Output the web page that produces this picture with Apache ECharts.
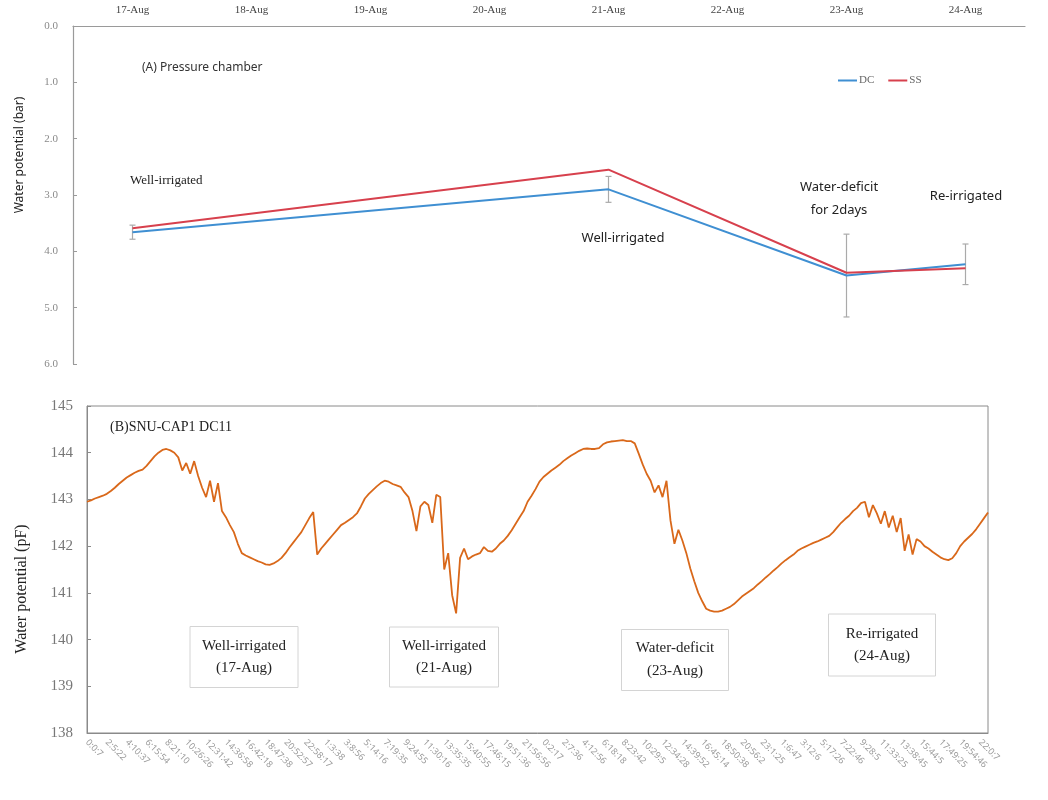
<!DOCTYPE html>
<html><head><meta charset="utf-8">
<script src="https://cdn.jsdelivr.net/npm/echarts@6/dist/echarts.min.js"></script>
<style>html,body{margin:0;padding:0;background:#fff}#c{width:1048px;height:800px}</style>
</head><body><div id="c"></div>
<script>
// ---- (A) Pressure chamber ----
const dates = ['17-Aug','18-Aug','19-Aug','20-Aug','21-Aug','22-Aug','23-Aug','24-Aug'];
const dcValues = [3.66, null, null, null, 2.90, null, 4.43, 4.23];
const ssValues = [3.59, null, null, null, 2.55, null, 4.38, 4.30];
const dcErrors = [0.125, null, null, null, 0.23, null, 0.735, 0.36];
const topTicks = [0, 1, 2, 3, 4, 5, 6];

// ---- (B) SNU-CAP1 DC11 ----
const timeLabels = ['0:0:7','2:5:22','4:10:37','6:15:54','8:21:10','10:26:26','12:31:42','14:36:58','16:42:18','18:47:38','20:52:57','22:58:17',
 '1:3:38','3:8:56','5:14:16','7:19:35','9:24:55','11:30:16','13:35:35','15:40:55','17:46:15','19:51:36','21:56:56',
 '0:2:17','2:7:36','4:12:56','6:18:18','8:23:42','10:29:5','12:34:28','14:39:52','16:45:14','18:50:38','20:56:2','23:1:25',
 '1:6:47','3:12:6','5:17:26','7:22:46','9:28:5','11:33:25','13:38:45','15:44:5','17:49:25','19:54:46','22:0:7'];
const capValues = [
 142.95,142.98,143.02,143.05,143.08,
 143.12,143.18,143.25,143.33,143.40,
 143.47,143.52,143.57,143.61,143.64,
 143.72,143.82,143.92,144.00,144.06,
 144.08,144.05,144.00,143.90,143.62,
 143.78,143.55,143.82,143.50,143.25,
 143.05,143.40,142.95,143.35,142.75,
 142.62,142.45,142.30,142.05,141.85,
 141.80,141.76,141.72,141.68,141.65,
 141.61,141.60,141.63,141.68,141.75,
 141.85,141.97,142.08,142.19,142.30,
 142.45,142.60,142.73,141.82,141.95,
 142.05,142.15,142.25,142.35,142.45,
 142.50,142.56,142.62,142.70,142.85,
 143.02,143.12,143.20,143.28,143.35,
 143.40,143.38,143.33,143.30,143.27,
 143.15,143.05,142.75,142.32,142.85,
 142.95,142.88,142.50,143.10,143.05,
 141.50,141.85,140.95,140.56,141.75,
 141.95,141.72,141.78,141.82,141.85,
 141.98,141.90,141.88,141.95,142.05,
 142.12,142.22,142.34,142.48,142.62,
 142.75,142.95,143.08,143.22,143.38,
 143.48,143.55,143.62,143.68,143.74,
 143.82,143.88,143.94,143.99,144.04,
 144.08,144.09,144.08,144.08,144.10,
 144.18,144.22,144.24,144.25,144.26,
 144.27,144.25,144.25,144.20,143.98,
 143.75,143.55,143.40,143.15,143.30,
 143.05,143.40,142.55,142.05,142.35,
 142.12,141.85,141.52,141.25,141.00,
 140.82,140.66,140.62,140.60,140.60,
 140.62,140.66,140.70,140.76,140.84,
 140.92,140.98,141.04,141.10,141.18,
 141.25,141.33,141.40,141.48,141.55,
 141.63,141.70,141.76,141.82,141.90,
 141.95,141.99,142.03,142.07,142.10,
 142.14,142.18,142.22,142.30,142.40,
 142.50,142.58,142.65,142.75,142.82,
 142.92,142.95,142.62,142.88,142.70,
 142.48,142.75,142.40,142.65,142.30,
 142.60,141.90,142.25,141.82,142.15,
 142.10,142.00,141.95,141.88,141.82,
 141.76,141.72,141.70,141.74,141.85,
 142.00,142.10,142.18,142.26,142.36,
 142.48,142.60,142.72
];
const LABEL_STEP = 5;
const xCats = capValues.map((_, i) => (i % LABEL_STEP === 0 && timeLabels[i / LABEL_STEP] !== undefined) ? timeLabels[i / LABEL_STEP] : '');

const SERIF = '"Liberation Serif","Times New Roman",serif';
const SANS = '"Noto Sans","DejaVu Sans",sans-serif';

const chart = echarts.init(document.getElementById('c'), null, {renderer: 'canvas'});

function errorBarItem(params, api) {
  const cat = api.value(0), v = api.value(1), sd = api.value(2);
  const lo = api.coord([cat, v - sd]);
  const hi = api.coord([cat, v + sd]);
  const w = 3;
  const st = {stroke: '#aaaaaa', lineWidth: 1.2};
  return {type: 'group', children: [
    {type: 'line', shape: {x1: lo[0], y1: lo[1], x2: hi[0], y2: hi[1]}, style: st},
    {type: 'line', shape: {x1: lo[0]-w, y1: lo[1], x2: lo[0]+w, y2: lo[1]}, style: st},
    {type: 'line', shape: {x1: hi[0]-w, y1: hi[1], x2: hi[0]+w, y2: hi[1]}, style: st}
  ]};
}
const errData = [];
dcErrors.forEach((e, i) => { if (e != null) errData.push([i, dcValues[i], e]); });

function boxText(cx, cy, w, h, lines, lineGap) {
  const children = [{type: 'rect', shape: {x: cx - w/2, y: cy - h/2, width: w, height: h},
    style: {fill: '#fff', stroke: '#d4d4d4', lineWidth: 1}}];
  lines.forEach((t, k) => {
    children.push({type: 'text', x: cx, y: cy + (k - (lines.length-1)/2) * lineGap,
      style: {text: t, font: '15px ' + SERIF, fill: '#222', textAlign: 'center', textVerticalAlign: 'middle'}});
  });
  return {type: 'group', children};
}

const option = {
  backgroundColor: '#fff',
  animation: false,
  grid: [
    {left: 73, right: 23, top: 26, height: 338, show: false},
    {left: 87, right: 60, top: 406, height: 327, show: true, borderColor: '#8a8a8a', borderWidth: 1}
  ],
  legend: {
    data: ['DC', 'SS'], left: 833, top: 70, icon: 'rect', itemWidth: 19, itemHeight: 2, itemGap: 14,
    textStyle: {fontFamily: SERIF, fontSize: 11, color: '#666', padding: [0, 0, 0, -3]}
  },
  xAxis: [
    {gridIndex: 0, type: 'category', position: 'top', data: dates, boundaryGap: true,
     axisLine: {lineStyle: {color: '#9a9a9a', width: 1.2}}, axisTick: {show: false},
     axisLabel: {fontFamily: SERIF, fontSize: 11, color: '#444', margin: 10}},
    {gridIndex: 1, type: 'category', data: xCats, boundaryGap: false,
     axisLine: {lineStyle: {color: '#8a8a8a'}}, axisTick: {show: false},
     axisLabel: {interval: LABEL_STEP - 1, rotate: -45, fontFamily: SANS, fontSize: 9, color: '#9a9a9a', margin: 8}}
  ],
  yAxis: [
    {gridIndex: 0, type: 'value', inverse: true, min: topTicks[0], max: topTicks[topTicks.length-1], interval: 1,
     axisLine: {show: true, lineStyle: {color: '#9a9a9a', width: 1.2}},
     axisTick: {show: true, inside: true, length: 4, lineStyle: {color: '#9a9a9a'}},
     splitLine: {show: false},
     axisLabel: {formatter: v => v.toFixed(1), fontFamily: SERIF, fontSize: 11, color: '#8a8a8a', margin: 15}},
    {gridIndex: 1, type: 'value', min: 138, max: 145, interval: 1,
     axisLine: {show: true, lineStyle: {color: '#8a8a8a'}},
     axisTick: {show: true, inside: true, length: 4, lineStyle: {color: '#8a8a8a'}},
     splitLine: {show: false},
     axisLabel: {fontFamily: SERIF, fontSize: 15, color: '#777', margin: 14}}
  ],
  series: [
    {name: 'DC', type: 'line', xAxisIndex: 0, yAxisIndex: 0, data: dcValues, connectNulls: true,
     showSymbol: false, symbol: 'none', color: '#3f8fd2', lineStyle: {width: 2, color: '#3f8fd2'}, z: 3},
    {name: 'SS', type: 'line', xAxisIndex: 0, yAxisIndex: 0, data: ssValues, connectNulls: true,
     showSymbol: false, symbol: 'none', color: '#d7404d', lineStyle: {width: 2, color: '#d7404d'}, z: 3},
    {name: 'DC error', type: 'custom', xAxisIndex: 0, yAxisIndex: 0, data: errData, renderItem: errorBarItem, z: 2},
    {name: 'CAP', type: 'line', xAxisIndex: 1, yAxisIndex: 1, data: capValues, showSymbol: false, symbol: 'none',
     color: '#d9681a', lineStyle: {width: 1.8, color: '#d9681a'}, z: 3}
  ],
  graphic: [
    {type: 'text', x: 20, y: 155, rotation: Math.PI/2,
     style: {text: 'Water potential (bar)', font: '12px ' + SANS, fill: '#222', textAlign: 'center', textVerticalAlign: 'middle'}},
    {type: 'text', x: 142, y: 68,
     style: {text: '(A) Pressure chamber', font: '12px ' + SANS, fill: '#333', textVerticalAlign: 'middle'}},
    {type: 'text', x: 130, y: 181,
     style: {text: 'Well-irrigated', font: '13px ' + SERIF, fill: '#222', textVerticalAlign: 'middle'}},
    {type: 'text', x: 623, y: 238,
     style: {text: 'Well-irrigated', font: '13px ' + SANS, fill: '#222', textAlign: 'center', textVerticalAlign: 'middle'}},
    {type: 'text', x: 839, y: 187,
     style: {text: 'Water-deficit', font: '13px ' + SANS, fill: '#222', textAlign: 'center', textVerticalAlign: 'middle'}},
    {type: 'text', x: 839, y: 210,
     style: {text: 'for 2days', font: '13px ' + SANS, fill: '#222', textAlign: 'center', textVerticalAlign: 'middle'}},
    {type: 'text', x: 966, y: 196,
     style: {text: 'Re-irrigated', font: '13px ' + SANS, fill: '#222', textAlign: 'center', textVerticalAlign: 'middle'}},
    {type: 'text', x: 22, y: 589, rotation: Math.PI/2,
     style: {text: 'Water potential (pF)', font: '16px ' + SERIF, fill: '#222', textAlign: 'center', textVerticalAlign: 'middle'}},
    {type: 'text', x: 110, y: 427,
     style: {text: '(B)SNU-CAP1 DC11', font: '14px ' + SERIF, fill: '#222', textVerticalAlign: 'middle'}},
    boxText(244, 657, 108, 61, ['Well-irrigated', '(17-Aug)'], 22),
    boxText(444, 657, 109, 60, ['Well-irrigated', '(21-Aug)'], 22),
    boxText(675, 660, 107, 61, ['Water-deficit', '(23-Aug)'], 23),
    boxText(882, 645, 107, 62, ['Re-irrigated', '(24-Aug)'], 22)
  ]
};
chart.setOption(option);
</script>
</body></html>
